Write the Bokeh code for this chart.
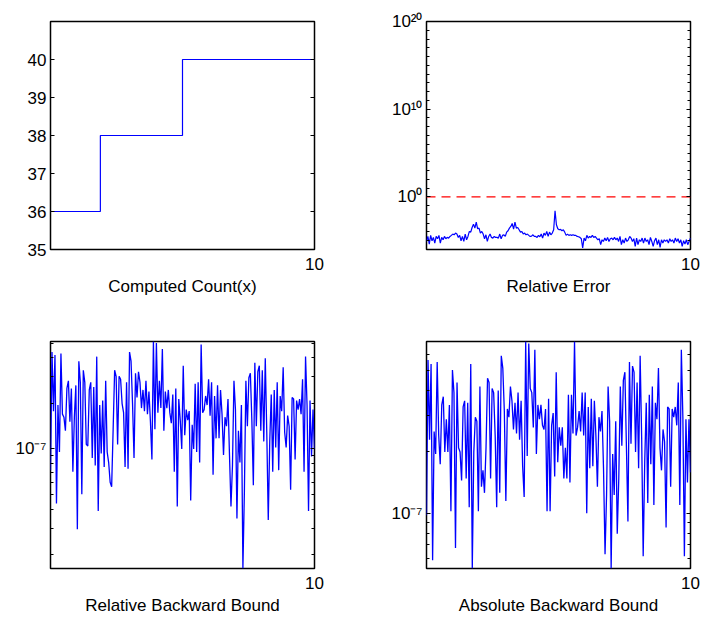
from bokeh.plotting import figure
from bokeh.layouts import column, row
from bokeh.models import Range1d, FixedTicker, LinearAxis, LogAxis, CustomJSTickFormatter
from bokeh.embed import file_html
from bokeh.resources import INLINE
import numpy as np

# ---------------- data ----------------
x_start, x_end = 1.0, 10.0

# Panel 1: computed count (step)
count_x = [1.0, 2.7, 5.5, 10.0]
count_y = [36, 38, 40, 40]

# Panel 2: relative error (log10 of values)
rel_err_log10 = [
    -5.08, -4.51, -5.38, -4.39, -5.00, -4.62, -5.27, -4.51, -4.77, -4.39,
    -5.27, -4.62, -4.89, -4.51, -4.77, -4.62, -4.70, -4.51, -4.39, -4.24,
    -4.32, -4.13, -4.24, -4.62, -4.39, -5.00, -4.51, -5.08, -4.24, -4.89,
    -4.51, -3.94, -4.02, -3.49, -3.11, -3.56, -2.88, -3.64, -3.56, -4.13,
    -3.94, -4.24, -4.77, -4.32, -5.08, -4.51, -4.24, -4.62, -4.70, -4.51,
    -4.62, -4.62, -4.70, -4.24, -4.77, -4.39, -4.32, -4.51, -4.02, -3.86,
    -3.56, -3.37, -3.03, -3.68, -2.88, -3.56, -3.49, -3.75, -4.02, -3.94,
    -4.24, -4.13, -4.32, -4.24, -4.39, -4.51, -4.47, -4.32, -4.51, -4.51,
    -4.62, -4.39, -4.55, -4.24, -4.70, -4.13, -4.39, -3.94, -4.51, -4.02,
    -4.32, -4.13, -3.75, -1.59, -3.18, -3.64, -3.75, -3.71, -3.86, -3.75,
    -4.02, -4.39, -4.24, -4.39, -4.32, -4.39, -4.32, -4.39, -4.39, -4.51,
    -4.55, -4.62, -4.77, -5.83, -4.70, -5.00, -4.39, -4.70, -4.51, -4.62,
    -4.39, -4.62, -4.51, -4.70, -4.89, -4.77, -5.45, -4.89, -5.08, -4.70,
    -5.00, -4.62, -5.08, -4.77, -4.70, -4.89, -4.62, -4.89, -4.70, -5.08,
    -4.51, -5.45, -4.89, -5.27, -4.70, -5.08, -4.89, -4.51, -4.70, -5.08,
    -4.77, -5.64, -4.70, -5.45, -4.89, -5.08, -4.70, -5.27, -4.70, -5.08,
    -4.89, -5.45, -4.62, -5.08, -5.64, -5.00, -4.70, -5.45, -4.89, -5.76,
    -4.89, -5.27, -4.89, -5.08, -4.89, -5.27, -4.77, -5.08, -4.89, -5.27,
    -4.70, -5.08, -4.77, -5.27, -4.89, -5.64, -5.00, -5.38, -4.89, -5.45,
    -5.08, -4.70,
]
threshold = 1.0

# Panel 3: relative backward bound (log10 of values)
rel_bwd_log10 = [
    -7.14, -6.36, -6.75, -6.38, -7.36, -6.71, -7.02, -6.37, -6.77, -6.79,
    -6.88, -6.60, -6.55, -6.82, -6.60, -7.15, -6.79, -6.58, -7.53, -6.42,
    -6.56, -7.30, -6.48, -6.56, -6.97, -6.98, -6.61, -6.56, -7.06, -6.59,
    -7.11, -6.39, -7.41, -6.71, -7.03, -6.68, -7.12, -6.55, -7.02, -7.09,
    -7.22, -7.25, -6.87, -6.48, -6.52, -6.97, -6.52, -6.54, -6.70, -6.76,
    -7.12, -6.56, -7.13, -6.36, -6.42, -6.70, -7.06, -6.50, -6.66, -6.49,
    -6.56, -6.73, -6.61, -6.75, -6.55, -6.77, -6.62, -6.82, -7.07, -6.29,
    -6.87, -6.30, -6.76, -6.55, -6.73, -6.34, -6.88, -6.62, -6.73, -6.61,
    -6.76, -6.83, -6.64, -7.15, -6.60, -7.38, -6.67, -6.81, -7.00, -6.45,
    -6.91, -6.74, -6.81, -6.75, -7.34, -6.84, -7.00, -6.57, -7.02, -6.56,
    -7.09, -6.31, -6.76, -6.74, -6.65, -6.71, -6.54, -6.78, -6.56, -7.17,
    -6.65, -6.93, -6.58, -6.93, -6.61, -6.77, -7.04, -6.79, -6.85, -6.67,
    -7.04, -7.38, -7.11, -6.55, -6.74, -7.46, -6.88, -7.09, -6.71, -7.79,
    -7.28, -6.55, -6.85, -6.53, -6.50, -6.81, -7.24, -6.43, -6.85, -6.49,
    -6.45, -6.88, -6.48, -6.95, -6.40, -6.89, -7.47, -6.95, -6.64, -7.15,
    -6.61, -6.99, -6.56, -7.14, -6.65, -6.75, -6.46, -6.89, -6.99, -6.78,
    -6.85, -7.27, -6.66, -6.67, -7.07, -6.68, -6.74, -6.67, -6.77, -6.54,
    -7.15, -6.39, -6.71, -7.41, -6.68, -7.05, -6.74, -7.00,
]

# Panel 4: absolute backward bound (log10 of values)
abs_bwd_log10 = [
    -7.01, -6.25, -6.64, -6.27, -7.23, -6.60, -6.71, -6.26, -6.62, -6.76,
    -6.47, -6.43, -6.70, -6.54, -6.70, -6.47, -6.99, -6.30, -6.41, -7.17,
    -6.36, -6.68, -6.70, -6.84, -6.48, -6.45, -6.83, -6.46, -6.97, -6.27,
    -7.27, -6.70, -6.53, -6.55, -6.99, -6.38, -6.87, -6.79, -6.90, -6.68,
    -6.34, -6.36, -6.83, -6.39, -6.41, -6.62, -6.97, -6.40, -6.90, -6.23,
    -6.29, -6.50, -6.94, -6.49, -6.53, -6.38, -6.45, -6.59, -6.46, -6.61,
    -6.41, -6.64, -6.45, -6.77, -6.92, -6.16, -6.72, -6.17, -6.39, -6.41,
    -6.58, -6.20, -6.71, -6.47, -6.54, -6.47, -6.57, -6.59, -6.49, -6.99,
    -6.44, -6.99, -6.57, -6.51, -6.82, -6.31, -6.75, -6.58, -6.67, -6.58,
    -6.83, -6.68, -6.83, -6.42, -6.85, -6.42, -6.61, -6.16, -6.62, -6.58,
    -6.50, -6.60, -6.41, -6.62, -6.41, -7.00, -6.48, -6.78, -6.44, -6.77,
    -6.45, -6.62, -6.87, -6.53, -6.60, -6.50, -6.78, -7.20, -6.91, -6.38,
    -6.55, -7.27, -6.71, -6.91, -6.55, -7.10, -6.83, -6.38, -6.67, -6.35,
    -6.31, -6.67, -7.04, -6.26, -6.66, -6.28, -6.31, -6.70, -6.36, -6.78,
    -6.23, -6.63, -7.21, -6.75, -6.46, -6.95, -6.42, -6.76, -6.38, -6.96,
    -6.46, -6.54, -6.29, -6.68, -6.79, -6.59, -6.65, -7.07, -6.48, -6.49,
    -6.87, -6.49, -6.53, -6.48, -6.57, -6.36, -6.96, -6.20, -6.53, -7.21,
    -6.54, -6.85, -6.54, -6.80,
]

titles = ["Computed Count(x)", "Relative Error",
          "Relative Backward Bound", "Absolute Backward Bound"]
count_ticks = [35, 36, 37, 38, 39, 40]
x_ticks = [10]

# ---------------- styling helpers ----------------
FONT = "Liberation Sans"
BLUE = "#0000FF"
RED = "#FF0000"

SUP_JS = """
const e = Math.round(Math.log10(tick));
const sup = {'-':'\u207b','0':'\u2070','1':'\u00b9','2':'\u00b2','3':'\u00b3',
             '4':'\u2074','5':'\u2075','6':'\u2076','7':'\u2077','8':'\u2078','9':'\u2079'};
return '10' + String(e).split('').map(c => sup[c]).join('');
"""


def style_axes(p, title):
    p.grid.visible = False
    p.outline_line_color = "black"
    p.outline_line_width = 1.5
    p.background_fill_color = "white"
    p.border_fill_color = "white"
    for ax in p.axis:
        ax.axis_line_color = None
        ax.major_tick_in = 4
        ax.major_tick_out = 0
        ax.minor_tick_in = 3
        ax.minor_tick_out = 0
        ax.major_tick_line_color = "black"
        ax.minor_tick_line_color = "black"
        ax.major_label_text_font = FONT
        ax.major_label_text_font_size = "17px"
        ax.major_label_text_color = "black"
    p.yaxis.major_label_standoff = 4
    p.xaxis.major_label_standoff = 8
    p.xaxis.ticker = FixedTicker(ticks=x_ticks, minor_ticks=[])
    p.xaxis.axis_label = title
    p.xaxis.axis_label_text_font = FONT
    p.xaxis.axis_label_text_font_size = "17px"
    p.xaxis.axis_label_text_font_style = "normal"
    p.xaxis.axis_label_text_color = "black"
    p.xaxis.axis_label_standoff = 4


def mirror_y(p, ticker, log):
    cls = LogAxis if log else LinearAxis
    ax = cls(ticker=ticker, formatter=CustomJSTickFormatter(code="return '';"),
             axis_line_color=None, major_tick_in=4, major_tick_out=0,
             minor_tick_in=3, minor_tick_out=0, major_label_standoff=0,
             major_tick_line_color="black", minor_tick_line_color="black")
    p.add_layout(ax, "right")


def make_fig(w, h, left, right, top, bottom, y_type, y_range):
    return figure(width=w, height=h, x_range=Range1d(x_start, x_end), y_range=y_range,
                  y_axis_type=y_type, output_backend="svg", toolbar_location=None, tools="",
                  min_border_left=left, min_border_right=right,
                  min_border_top=top, min_border_bottom=bottom)


# ---------------- panel 1 ----------------
p1 = make_fig(350, 310, 50, 36, 21, 61, "linear", Range1d(35, 41))
p1.step(count_x, count_y, mode="after", line_color=BLUE, line_width=1.2)
style_axes(p1, titles[0])
t1 = FixedTicker(ticks=count_ticks, minor_ticks=[])
p1.yaxis.ticker = t1
mirror_y(p1, t1, False)

# ---------------- panel 2 ----------------
rel_err = [10.0 ** v for v in rel_err_log10]
x2 = np.linspace(x_start, x_end, len(rel_err))
p2 = make_fig(351, 310, 76, 11, 21, 61, "log", Range1d(1e-6, 1e20))
p2.line(x2, rel_err, line_color=BLUE, line_width=1.2)
p2.line([x_start, x_end], [threshold, threshold], line_color=RED, line_width=1.2,
        line_dash="9 6")
style_axes(p2, titles[1])
t2 = FixedTicker(ticks=[1.0, 1e10, 1e20],
                 minor_ticks=[10.0 ** k for k in range(-6, 21) if k % 10 != 0])
p2.yaxis.ticker = t2
p2.yaxis.formatter = CustomJSTickFormatter(code=SUP_JS)
mirror_y(p2, t2, True)

# ---------------- panels 3 & 4 ----------------
minor_log = [k * 10.0 ** e for e in range(-9, -5) for k in range(2, 10)]


def backward_panel(vals_log10, left, right, title):
    vals = [10.0 ** v for v in vals_log10]
    xs = np.linspace(x_start, x_end, len(vals))
    p = make_fig(350 if left == 50 else 351, 308, left, right, 31, 50, "log",
                 Range1d(min(vals), max(vals)))
    p.line(xs, vals, line_color=BLUE, line_width=1.3)
    style_axes(p, title)
    t = FixedTicker(ticks=[1e-7], minor_ticks=minor_log)
    p.yaxis.ticker = t
    p.yaxis.formatter = CustomJSTickFormatter(code=SUP_JS)
    mirror_y(p, t, True)
    return p


p3 = backward_panel(rel_bwd_log10, 50, 36, titles[2])
p4 = backward_panel(abs_bwd_log10, 76, 11, titles[3])

layout = column(row(p1, p2), row(p3, p4))
open("out.html", "w", encoding="utf-8").write(file_html(layout, INLINE))
